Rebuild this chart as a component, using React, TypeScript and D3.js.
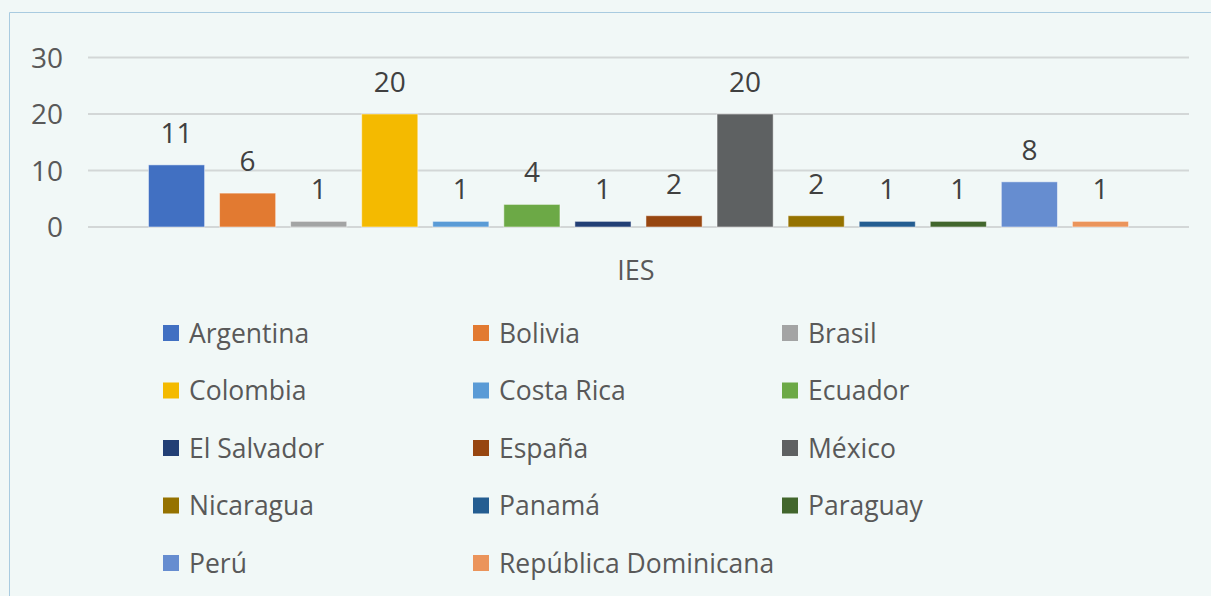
import React from "react";
import * as d3 from "d3";

const countries = [
  "Argentina", "Bolivia", "Brasil", "Colombia", "Costa Rica", "Ecuador", "El Salvador",
  "España", "México", "Nicaragua", "Panamá", "Paraguay", "Perú", "República Dominicana",
];
const values = [11, 6, 1, 20, 1, 4, 1, 2, 20, 2, 1, 1, 8, 1];
const colors = [
  "#4170c2", "#e27a31", "#a3a4a4", "#f4ba00", "#5a9bd6", "#6ca946", "#223f75",
  "#974610", "#5e6162", "#957200", "#245d91", "#42662c", "#668dd0", "#eb945b",
];
const yTicks = [0, 10, 20, 30];
const axisTitle = "IES";

const W = 1211;
const H = 596;
const FONT = "'Open Sans', 'DejaVu Sans', sans-serif";
const TXT = "#595959";

export default function App() {
  const y = d3.scaleLinear().domain([0, 30]).range([227, 57.5]);
  const x = d3
    .scaleBand<string>()
    .domain(countries)
    .range([141, 1136])
    .paddingInner(0.21)
    .paddingOuter(0.105);

  const legendCols = [163, 473, 782];
  const legendRow0 = 333;
  const legendRowStep = 57.5;

  return (
    <div style={{ position: "absolute", left: 0, top: 0 }}>
      <svg width={W} height={H} style={{ display: "block" }}>
        <rect x={0} y={0} width={W} height={H} fill="#f1f8f7" />
        <path d={`M9.5,${H} V12.5 H${W}`} fill="none" stroke="#a9cbe0" strokeWidth={1} />
        {yTicks.map((t) => (
          <g key={t}>
            <line x1={88} x2={1189} y1={y(t)} y2={y(t)} stroke="#d3d7d7" strokeWidth={2} />
            <text
              x={63}
              y={y(t)}
              dy="0.36em"
              textAnchor="end"
              fontFamily={FONT}
              fontSize={28}
              fill={TXT}
            >
              {t}
            </text>
          </g>
        ))}
        {countries.map((c, i) => {
          const bx = x(c)!;
          const top = y(values[i]);
          return (
            <g key={c}>
              <rect
                x={bx}
                y={top}
                width={x.bandwidth()}
                height={y(0) - top}
                fill={colors[i]}
                stroke="#ffffff"
                strokeOpacity={0.5}
                strokeWidth={1}
              />
              <text
                x={bx + x.bandwidth() / 2}
                y={top - 22}
                textAnchor="middle"
                fontFamily={FONT}
                fontSize={28}
                fill="#404040"
              >
                {values[i]}
              </text>
            </g>
          );
        })}
        <text
          x={636}
          y={270}
          dy="0.36em"
          textAnchor="middle"
          fontFamily={FONT}
          fontSize={27}
          fill={TXT}
        >
          {axisTitle}
        </text>
        {countries.map((c, i) => {
          const col = i % 3;
          const row = Math.floor(i / 3);
          const lx = legendCols[col];
          const ly = legendRow0 + row * legendRowStep;
          return (
            <g key={"l" + c}>
              <rect x={lx} y={ly - 8} width={16} height={16} fill={colors[i]} />
              <text
                x={lx + 26}
                y={ly}
                dy="0.36em"
                fontFamily={FONT}
                fontSize={26.5}
                fill={TXT}
              >
                {c}
              </text>
            </g>
          );
        })}
      </svg>
    </div>
  );
}
